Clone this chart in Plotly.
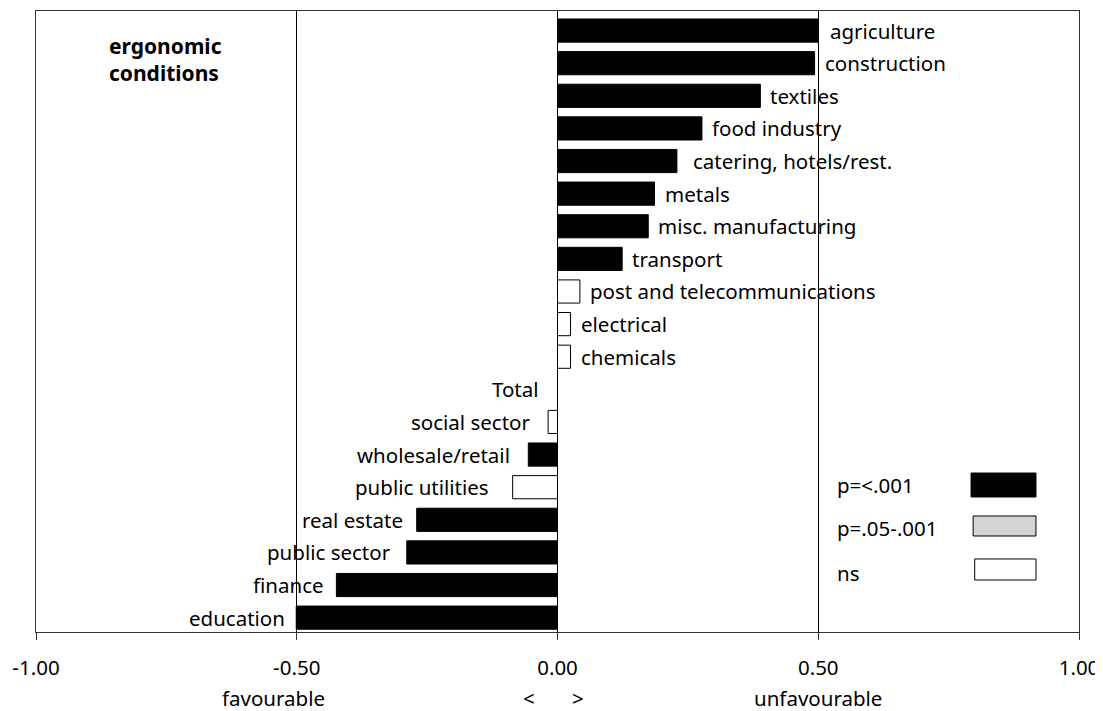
import plotly.graph_objects as go

# ---- data ----
categories = ["agriculture", "construction", "textiles", "food industry",
              "catering, hotels/rest.", "metals", "misc. manufacturing", "transport",
              "post and telecommunications", "electrical", "chemicals", "Total",
              "social sector", "wholesale/retail", "public utilities", "real estate",
              "public sector", "finance", "education"]
values = [0.50, 0.493, 0.389, 0.277, 0.229, 0.186, 0.174, 0.124,
          0.043, 0.025, 0.025, 0.0,
          -0.018, -0.056, -0.086, -0.270, -0.289, -0.424, -0.501]
significance = ["p<.001", "p<.001", "p<.001", "p<.001", "p<.001", "p<.001", "p<.001", "p<.001",
                "ns", "ns", "ns", "ns",
                "ns", "p<.001", "ns", "p<.001", "p<.001", "p<.001", "p<.001"]
tick_vals = [-1.0, -0.5, 0.0, 0.5, 1.0]
tick_text = ["-1.00", "-0.50", "0.00", "0.50", "1.00"]
legend_labels = ["p=<.001", "p=.05-.001", "ns"]

FONT = "Noto Sans"
FS = 20.5
fill_map = {"p<.001": "#000000", "p=.05-.001": "#d4d4d4", "ns": "#ffffff"}

fig = go.Figure()
fig.add_trace(go.Bar(
    x=values, y=categories, orientation="h",
    marker=dict(color=[fill_map[s] for s in significance],
                line=dict(color="#000000", width=1)),
    width=0.71, showlegend=False, hoverinfo="x+y",
))

# label gaps (pixels)
gap_override = {"catering, hotels/rest.": 14, "agriculture": 10, "public utilities": 22,
                "social sector": 16, "wholesale/retail": 16, "Total": 17,
                "education": 9, "real estate": 12, "public sector": 14, "finance": 10}
annotations = []
for c, v in zip(categories, values):
    if v > 0:
        g = gap_override.get(c, 8)
        annotations.append(dict(x=v, y=c, xref="x", yref="y", text=c, showarrow=False,
                                xanchor="left", xshift=g, font=dict(family=FONT, size=FS, color="black")))
    else:
        g = gap_override.get(c, 12)
        annotations.append(dict(x=v, y=c, xref="x", yref="y", text=c, showarrow=False,
                                xanchor="right", xshift=-g, font=dict(family=FONT, size=FS, color="black")))

# title inside plot
annotations.append(dict(x=0.068, y=0.922, xref="paper", yref="paper",
                        text="<b>ergonomic<br>conditions</b>", showarrow=False,
                        xanchor="left", yanchor="middle", align="left",
                        font=dict(family=FONT, size=21, color="black")))

# legend texts and swatches
leg_y_text = [0.2367, 0.1675, 0.095]
leg_boxes = [(0.793, 0.9175, 0.2174, 0.256), (0.797, 0.9175, 0.1546, 0.1868), (0.8, 0.9175, 0.0837, 0.1176)]
leg_fill = ["#000000", "#d4d4d4", "#ffffff"]
shapes = []
for lab, yy, (x0, x1, y0, y1), fc in zip(legend_labels, leg_y_text, leg_boxes, leg_fill):
    annotations.append(dict(x=0.766, y=yy, xref="paper", yref="paper", text=lab,
                            showarrow=False, xanchor="left", yanchor="middle",
                            font=dict(family=FONT, size=FS, color="black")))
    shapes.append(dict(type="rect", xref="x", yref="paper", x0=x0, x1=x1, y0=y0, y1=y1,
                       fillcolor=fc, line=dict(color="#000000", width=1)))

# bottom labels
for txt, xx in [("favourable", -0.545), ("unfavourable", 0.5), ("<", -0.055), (">", 0.039)]:
    annotations.append(dict(x=xx, y=-0.107, xref="x", yref="paper", text=txt,
                            showarrow=False, xanchor="center", yanchor="middle",
                            font=dict(family=FONT, size=FS, color="black")))

# page has an 8px body margin: compensate so the plot area lands at 36..1079 x 11..632
fig.update_layout(
    width=1095, height=703,
    margin=dict(l=28, r=24, t=3, b=79),
    paper_bgcolor="white", plot_bgcolor="white",
    bargap=0.29,
    annotations=annotations, shapes=shapes,
    font=dict(family=FONT, size=FS, color="black"),
    xaxis=dict(range=[-1, 1], tickvals=tick_vals, ticktext=tick_text,
               showgrid=True, gridcolor="#000000", gridwidth=1,
               zeroline=True, zerolinecolor="#000000", zerolinewidth=1,
               showline=True, linecolor="#333333", linewidth=1, mirror=True,
               ticks="outside", ticklen=7, tickcolor="#333333",
               ticklabelstandoff=10,
               tickfont=dict(family=FONT, size=FS, color="black"), fixedrange=True),
    yaxis=dict(type="category", categoryorder="array", categoryarray=categories,
               range=[18.44, -0.6], showticklabels=False, showgrid=False,
               zeroline=False, showline=True, linecolor="#333333", linewidth=1,
               mirror=True, ticks="", fixedrange=True),
)

fig.write_html("out.html", config={"displayModeBar": False})
